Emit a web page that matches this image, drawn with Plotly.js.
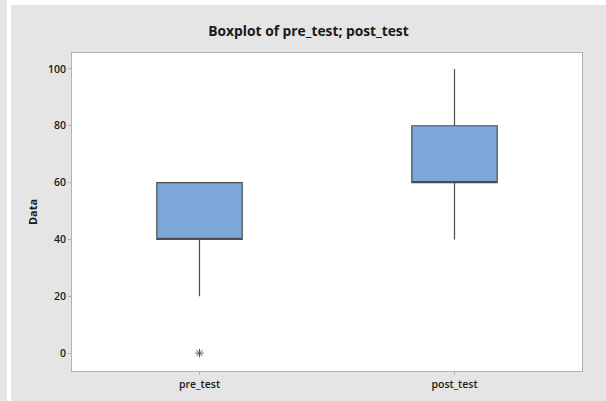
<!DOCTYPE html>
<html>
<head>
<meta charset="utf-8">
<script src="https://cdn.plot.ly/plotly-3.0.1.min.js"></script>
<style>
  html, body { margin: 0; padding: 0; background: #e5e5e5; width: 606px; height: 401px; overflow: hidden; }
  #wrap { position: absolute; left: 7px; top: 0px; border-left: 4px solid #ffffff; border-top: 5px solid #ffffff; width: 595px; height: 396px; }
  #chart { width: 595px; height: 396px; }
</style>
</head>
<body>
<div id="wrap"><div id="chart"></div></div>
<script>
const categories = ['pre_test', 'post_test'];
const q1Values = [40, 60];
const medianValues = [40, 60];
const q3Values = [60, 80];
const lowerWhiskers = [20, 40];
const upperWhiskers = [60, 100];
const outlierCategories = ['pre_test'];
const outlierValues = [0];
const yTickValues = [0, 20, 40, 60, 80, 100];

const boxTrace = {
  type: 'box',
  x: categories,
  q1: q1Values,
  median: medianValues,
  q3: q3Values,
  lowerfence: lowerWhiskers,
  upperfence: upperWhiskers,
  width: 0.335,
  whiskerwidth: 0,
  fillcolor: '#7ba7d9',
  line: { color: '#4d4d4d', width: 1.2 },
  boxpoints: false,
  hoverinfo: 'skip',
  showlegend: false
};

const outlierTrace = {
  type: 'scatter',
  mode: 'markers',
  x: outlierCategories,
  y: outlierValues,
  marker: { symbol: 'asterisk-open', size: 7, color: '#555555', line: { color: '#555555', width: 1 } },
  hoverinfo: 'skip',
  showlegend: false
};

const font = { family: '"Open Sans", "Noto Sans", sans-serif', color: '#1a1a1a' };

const layout = {
  width: 595,
  height: 396,
  margin: { l: 61, r: 24, t: 48, b: 30 },
  paper_bgcolor: '#e5e5e5',
  plot_bgcolor: '#ffffff',
  title: {
    text: '<b>Boxplot of pre_test; post_test</b>',
    font: { family: font.family, size: 13.8, color: '#1a1a1a' },
    x: 0.5, xanchor: 'center', y: 0.935, yanchor: 'middle'
  },
  xaxis: {
    type: 'category',
    categoryorder: 'array',
    categoryarray: categories,
    range: [-0.5, 1.5],
    showgrid: false,
    zeroline: false,
    showline: true,
    linecolor: '#b3b3b3',
    linewidth: 1,
    mirror: true,
    ticks: 'outside',
    ticklen: 3,
    tickcolor: '#b3b3b3',
    tickfont: { family: font.family, size: 10.5, color: '#1a1a1a', weight: 600 },
    fixedrange: true
  },
  yaxis: {
    range: [-6.3, 105.6],
    tickvals: yTickValues,
    ticktext: yTickValues.map(String),
    showgrid: false,
    zeroline: false,
    showline: true,
    linecolor: '#b3b3b3',
    linewidth: 1,
    mirror: true,
    ticks: 'outside',
    ticklen: 3,
    tickcolor: '#b3b3b3',
    tickfont: { family: font.family, size: 10.5, color: '#1a1a1a', weight: 600 },
    title: { text: '<b>Data</b>', font: { family: font.family, size: 11, color: '#1a1a1a' }, standoff: 8 },
    fixedrange: true
  }
};

Plotly.newPlot('chart', [boxTrace, outlierTrace], layout, { displayModeBar: false, staticPlot: true });
</script>
</body>
</html>
